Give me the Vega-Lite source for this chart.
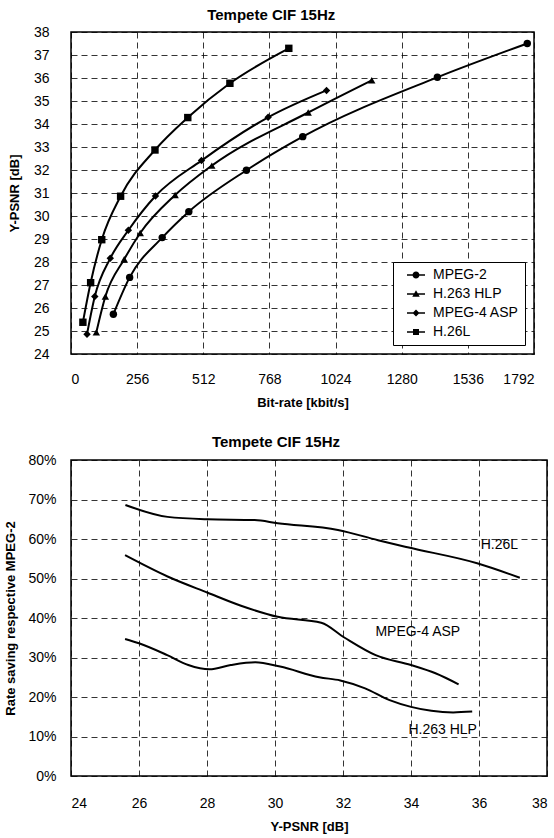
{
  "$schema": "https://vega.github.io/schema/vega-lite/v6.json",
  "background": "white",
  "padding": {"left": 4, "top": 7, "right": 8, "bottom": 4},
  "config": {
    "font": "Liberation Sans",
    "view": {"stroke": "black", "strokeWidth": 1.5},
    "axis": {
      "grid": true, "gridColor": "black", "gridDash": [6, 4], "gridWidth": 0.8, "gridOpacity": 1,
      "domain": false, "ticks": false,
      "labelFontSize": 14, "labelColor": "black", "labelFont": "Liberation Sans",
      "titleFontSize": 13, "titleFontWeight": "bold", "titleColor": "black"
    },
    "title": {"fontSize": 15, "fontWeight": "bold", "color": "black"},
    "concat": {"spacing": 24}
  },
  "resolve": {"legend": {"shape": "independent"}, "scale": {"x": "independent", "y": "independent"}},
  "vconcat": [
    {
      "width": 463,
      "height": 322,
      "title": {"text": "Tempete CIF 15Hz", "frame": "bounds", "offset": 2},
      "data": {"values": [
        {"codec": "MPEG-2", "rate": 164, "psnr": 25.73},
        {"codec": "MPEG-2", "rate": 227, "psnr": 27.33},
        {"codec": "MPEG-2", "rate": 353, "psnr": 29.06},
        {"codec": "MPEG-2", "rate": 456, "psnr": 30.19},
        {"codec": "MPEG-2", "rate": 679, "psnr": 31.99},
        {"codec": "MPEG-2", "rate": 897, "psnr": 33.45},
        {"codec": "MPEG-2", "rate": 1418, "psnr": 36.03},
        {"codec": "MPEG-2", "rate": 1766, "psnr": 37.5},
        {"codec": "H.263 HLP", "rate": 98, "psnr": 24.94},
        {"codec": "H.263 HLP", "rate": 133, "psnr": 26.5},
        {"codec": "H.263 HLP", "rate": 206, "psnr": 28.12},
        {"codec": "H.263 HLP", "rate": 268, "psnr": 29.26},
        {"codec": "H.263 HLP", "rate": 403, "psnr": 30.91},
        {"codec": "H.263 HLP", "rate": 545, "psnr": 32.19},
        {"codec": "H.263 HLP", "rate": 918, "psnr": 34.5},
        {"codec": "H.263 HLP", "rate": 1164, "psnr": 35.9},
        {"codec": "MPEG-4 ASP", "rate": 62, "psnr": 24.86},
        {"codec": "MPEG-4 ASP", "rate": 92, "psnr": 26.5},
        {"codec": "MPEG-4 ASP", "rate": 152, "psnr": 28.16},
        {"codec": "MPEG-4 ASP", "rate": 222, "psnr": 29.38},
        {"codec": "MPEG-4 ASP", "rate": 327, "psnr": 30.87},
        {"codec": "MPEG-4 ASP", "rate": 505, "psnr": 32.41},
        {"codec": "MPEG-4 ASP", "rate": 763, "psnr": 34.29},
        {"codec": "MPEG-4 ASP", "rate": 989, "psnr": 35.46},
        {"codec": "H.26L", "rate": 46, "psnr": 25.38},
        {"codec": "H.26L", "rate": 76, "psnr": 27.1},
        {"codec": "H.26L", "rate": 119, "psnr": 28.97},
        {"codec": "H.26L", "rate": 192, "psnr": 30.86},
        {"codec": "H.26L", "rate": 325, "psnr": 32.87},
        {"codec": "H.26L", "rate": 452, "psnr": 34.28},
        {"codec": "H.26L", "rate": 615, "psnr": 35.77},
        {"codec": "H.26L", "rate": 843, "psnr": 37.29}
      ]},
      "encoding": {
        "x": {"field": "rate", "type": "quantitative",
              "scale": {"domain": [0, 1792], "nice": false},
              "axis": {"values": [0, 256, 512, 768, 1024, 1280, 1536, 1792], "format": "d", "title": "Bit-rate [kbit/s]", "labelPadding": 18, "titlePadding": 10}},
        "y": {"field": "psnr", "type": "quantitative",
              "scale": {"domain": [24, 38], "nice": false, "zero": false},
              "axis": {"values": [24, 25, 26, 27, 28, 29, 30, 31, 32, 33, 34, 35, 36, 37, 38], "title": "Y-PSNR [dB]", "labelPadding": 22, "titlePadding": 12}}
      },
      "resolve": {"scale": {"shape": "independent"}},
      "layer": [
        {"mark": {"type": "line", "interpolate": "monotone", "color": "black", "strokeWidth": 2},
         "encoding": {"detail": {"field": "codec", "type": "nominal"}}},
        {"mark": {"type": "point", "filled": true, "color": "black", "opacity": 1, "size": 55},
         "encoding": {"shape": {"field": "codec", "type": "nominal",
            "scale": {"domain": ["MPEG-2", "H.263 HLP", "MPEG-4 ASP", "H.26L"], "range": ["circle", "triangle-up", "diamond", "square"]},
            "legend": null}}},
        {"transform": [{"filter": "datum.rate < 0"}],
         "mark": {"type": "point", "filled": true, "color": "black", "opacity": 1},
         "encoding": {"shape": {"field": "codec", "type": "nominal",
            "scale": {"domain": ["MPEG-2", "H.263 HLP", "MPEG-4 ASP", "H.26L"],
                      "range": ["M-1.8,-0.15H1.8V0.15H-1.8ZM-0.7,0A0.7,0.7 0 1,1 0.7,0A0.7,0.7 0 1,1 -0.7,0Z",
                                "M-1.8,-0.15H1.8V0.15H-1.8ZM-0.75,0.55L0,-0.75L0.75,0.55Z",
                                "M-1.8,-0.15H1.8V0.15H-1.8ZM-0.7,0L0,-0.7L0.7,0L0,0.7Z",
                                "M-1.8,-0.15H1.8V0.15H-1.8ZM-0.6,-0.6H0.6V0.6H-0.6Z"]},
            "legend": {"title": null, "orient": "bottom-right", "offset": 9, "strokeColor": "black", "fillColor": "white", "padding": 6,
                       "labelFontSize": 14, "labelColor": "black", "symbolSize": 100,
                       "symbolOffset": 10, "labelOffset": 10,
                       "rowPadding": 5, "labelLimit": 200, "symbolOpacity": 1, "symbolFillColor": "black"}}}}
      ]
    },
    {
      "width": 476,
      "height": 316,
      "title": {"text": "Tempete CIF 15Hz", "frame": "bounds", "offset": 3},
      "encoding": {
        "x": {"field": "psnr", "type": "quantitative",
              "scale": {"domain": [24, 38], "nice": false, "zero": false},
              "axis": {"values": [24, 26, 28, 30, 32, 34, 36, 38], "title": "Y-PSNR [dB]", "labelPadding": 20, "titlePadding": 10}},
        "y": {"field": "saving", "type": "quantitative",
              "scale": {"domain": [0, 0.8], "nice": false},
              "axis": {"values": [0, 0.1, 0.2, 0.3, 0.4, 0.5, 0.6, 0.7, 0.8], "format": ".0%", "title": "Rate saving respective MPEG-2", "labelPadding": 15, "titlePadding": 10}}
      },
      "layer": [
        {
          "data": {"values": [
            {"codec": "H.26L", "psnr": 25.6, "saving": 0.686},
            {"codec": "H.26L", "psnr": 26.84, "saving": 0.656},
            {"codec": "H.26L", "psnr": 28.02, "saving": 0.65},
            {"codec": "H.26L", "psnr": 29.4, "saving": 0.648},
            {"codec": "H.26L", "psnr": 30.08, "saving": 0.64},
            {"codec": "H.26L", "psnr": 31.85, "saving": 0.623},
            {"codec": "H.26L", "psnr": 33.03, "saving": 0.597},
            {"codec": "H.26L", "psnr": 33.9, "saving": 0.579},
            {"codec": "H.26L", "psnr": 35.97, "saving": 0.538},
            {"codec": "H.26L", "psnr": 37.2, "saving": 0.502},
            {"codec": "MPEG-4 ASP", "psnr": 25.59, "saving": 0.559},
            {"codec": "MPEG-4 ASP", "psnr": 26.84, "saving": 0.505},
            {"codec": "MPEG-4 ASP", "psnr": 28.02, "saving": 0.464},
            {"codec": "MPEG-4 ASP", "psnr": 29.0, "saving": 0.431},
            {"codec": "MPEG-4 ASP", "psnr": 30.08, "saving": 0.403},
            {"codec": "MPEG-4 ASP", "psnr": 31.36, "saving": 0.388},
            {"codec": "MPEG-4 ASP", "psnr": 32.05, "saving": 0.35},
            {"codec": "MPEG-4 ASP", "psnr": 32.96, "saving": 0.306},
            {"codec": "MPEG-4 ASP", "psnr": 34.0, "saving": 0.281},
            {"codec": "MPEG-4 ASP", "psnr": 34.72, "saving": 0.26},
            {"codec": "MPEG-4 ASP", "psnr": 35.4, "saving": 0.232},
            {"codec": "H.263 HLP", "psnr": 25.59, "saving": 0.347},
            {"codec": "H.263 HLP", "psnr": 26.0, "saving": 0.336},
            {"codec": "H.263 HLP", "psnr": 26.83, "saving": 0.306},
            {"codec": "H.263 HLP", "psnr": 27.45, "saving": 0.281},
            {"codec": "H.263 HLP", "psnr": 28.07, "saving": 0.27},
            {"codec": "H.263 HLP", "psnr": 28.7, "saving": 0.281},
            {"codec": "H.263 HLP", "psnr": 29.42, "saving": 0.288},
            {"codec": "H.263 HLP", "psnr": 30.15, "saving": 0.277},
            {"codec": "H.263 HLP", "psnr": 31.3, "saving": 0.25},
            {"codec": "H.263 HLP", "psnr": 31.92, "saving": 0.242},
            {"codec": "H.263 HLP", "psnr": 32.65, "saving": 0.222},
            {"codec": "H.263 HLP", "psnr": 33.37, "saving": 0.192},
            {"codec": "H.263 HLP", "psnr": 34.0, "saving": 0.175},
            {"codec": "H.263 HLP", "psnr": 34.6, "saving": 0.165},
            {"codec": "H.263 HLP", "psnr": 35.24, "saving": 0.161},
            {"codec": "H.263 HLP", "psnr": 35.8, "saving": 0.163}
          ]},
          "mark": {"type": "line", "interpolate": "monotone", "color": "black", "strokeWidth": 2},
          "encoding": {"detail": {"field": "codec", "type": "nominal"}}
        },
        {
          "data": {"values": [
            {"label": "H.26L", "psnr": 36.6, "saving": 0.585},
            {"label": "MPEG-4 ASP", "psnr": 34.2, "saving": 0.365},
            {"label": "H.263 HLP", "psnr": 34.93, "saving": 0.116}
          ]},
          "mark": {"type": "text", "fontSize": 14, "color": "black", "align": "center", "baseline": "middle"},
          "encoding": {"text": {"field": "label", "type": "nominal"}}
        }
      ]
    }
  ]
}
